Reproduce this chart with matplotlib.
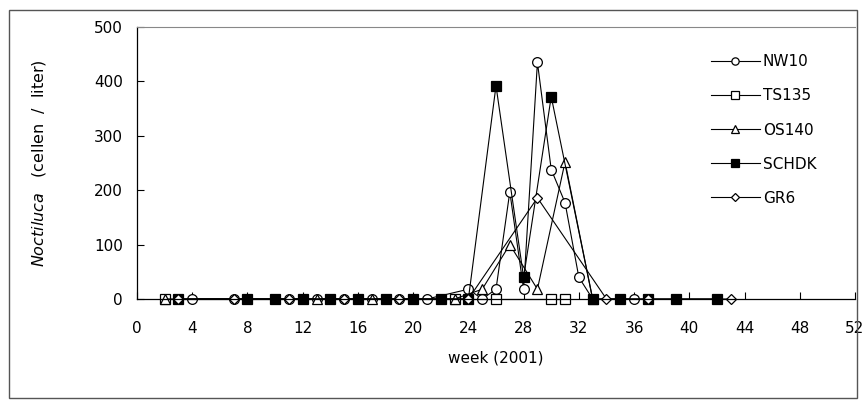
import matplotlib.pyplot as plt
from matplotlib.patches import Rectangle

# Noctiluca counts per station, 2001
nw10_week = [4, 7, 11, 13, 15, 17, 19, 21, 24, 25, 26, 27, 28, 29, 30, 31, 32, 33, 36]
nw10_val = [0, 0, 0, 0, 0, 0, 0, 0, 18, 0, 18, 197, 18, 435, 238, 177, 40, 0, 0]

ts135_week = [2, 23, 26, 30, 31]
ts135_val = [0, 0, 0, 0, 0]

os140_week = [2, 13, 17, 23, 25, 27, 29, 31, 33]
os140_val = [0, 0, 0, 0, 18, 100, 18, 252, 0]

schdk_week = [3, 8, 10, 12, 14, 16, 18, 20, 22, 24, 26, 28, 30, 33, 35, 37, 39, 42]
schdk_val = [0, 0, 0, 0, 0, 0, 0, 0, 0, 0, 392, 40, 372, 0, 0, 0, 0, 0]

gr6_week = [3, 7, 11, 15, 19, 24, 29, 34, 37, 43]
gr6_val = [0, 0, 0, 0, 0, 0, 186, 0, 0, 0]

plt.rcParams['font.family'] = ['DejaVu Sans']

fig = plt.figure(figsize=(8.66, 4.08), dpi=100)
ax = fig.add_axes([137/866, 109/408, 718/866, 272/408])

kw = dict(color='black', lw=0.8, mec='black', mew=0.9, clip_on=False)
ax.plot(nw10_week, nw10_val, marker='o', ms=7, mfc='white', label='NW10', **kw)
ax.plot(ts135_week, ts135_val, marker='s', ms=7, mfc='white', label='TS135', **kw)
ax.plot(os140_week, os140_val, marker='^', ms=7, mfc='white', label='OS140', **kw)
ax.plot(schdk_week, schdk_val, marker='s', ms=7, mfc='black', label='SCHDK', **kw)
ax.plot(gr6_week, gr6_val, marker='D', ms=5.5, mfc='white', label='GR6', **kw)

ax.set_xlim(0, 52)
ax.set_ylim(0, 500)
ax.set_xticks(range(0, 53, 4))
ax.set_yticks(range(0, 501, 100))
ax.tick_params(direction='in', length=5, width=0.8, labelsize=11)
ax.tick_params(axis='x', pad=16)
ax.tick_params(axis='y', pad=10)

ax.spines['right'].set_visible(False)
ax.spines['top'].set_color('#888888')
for s in ('left', 'bottom'):
    ax.spines[s].set_linewidth(0.9)

ax.set_xlabel('week (2001)', fontsize=11, labelpad=10)
ax.set_ylabel(r'$\it{Noctiluca}$   (cellen  /  liter)', fontsize=11.5, labelpad=33)

leg = ax.legend(loc='upper left', bbox_to_anchor=(0.78, 0.95), frameon=False,
                fontsize=11, handlelength=3.2, handletextpad=0.2,
                labelspacing=1.25, markerscale=0.75)

# chart area border
fig.patches.append(Rectangle((9/866, 10/408), 848/866, 388/408, transform=fig.transFigure,
                             fill=False, edgecolor='#555555', lw=1.0))

fig.savefig('out.png', dpi=100)
